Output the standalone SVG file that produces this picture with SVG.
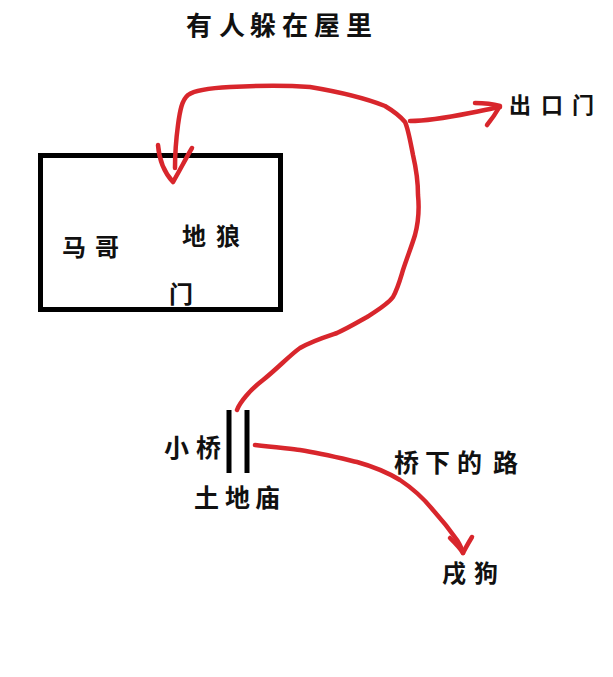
<svg xmlns="http://www.w3.org/2000/svg" width="613" height="677" viewBox="0 0 613 677">
<style>
.t{font-family:"Noto Sans CJK SC","Noto Sans CJK JP",sans-serif;font-weight:700;fill:#111}
.r{fill:none;stroke:#d8262c;stroke-width:4.5;stroke-linecap:round;stroke-linejoin:round}
.k{fill:none;stroke:#000}
</style>
<rect width="613" height="677" fill="#fff"/>
<g id="title"><text class="t" font-size="26" x="186 219 250 282 314 346" y="35">有人躲在屋里</text></g>
<g id="house">
<rect class="k" x="40.5" y="155.5" width="240" height="154" stroke-width="5"/>
<text class="t" font-size="24" x="62 95" y="256">马哥</text>
<text class="t" font-size="24" x="182 216" y="245">地狼</text>
<text class="t" font-size="24" x="169" y="303">门</text>
</g>
<g id="exit"><text class="t" font-size="22" x="509 541 572" y="113">出口门</text></g>
<g id="bridge">
<line class="k" x1="229" y1="410" x2="229" y2="473" stroke-width="5"/>
<line class="k" x1="247" y1="410" x2="247" y2="473" stroke-width="5"/>
<text class="t" font-size="25" x="164 196" y="457">小桥</text>
<text class="t" font-size="25" x="194 225 255" y="507">土地庙</text>
</g>
<g id="road"><text class="t" font-size="25" x="394 425 457 493" y="472">桥下的路</text></g>
<g id="dog"><text class="t" font-size="24" x="442 474" y="582">戌狗</text></g>
<g id="connectors">
<path class="r" d="M237,410 C240,402 250,390 263,380 C278,368 290,355 300,348 C312,341 325,337 337,333 C350,327 358,322 367,317 C378,310 388,304 393,297 C398,288 400,280 403,270 C408,255 412,245 415,235 C419,220 419,205 418,195 C418,180 416,168 413,155 C410,140 408,128 405,122 C400,116 395,112 385,106 C365,98 340,92 310,87 C280,85 250,86 230,87 C210,88 195,90 188,95 C182,100 180,110 178,125 C176,140 175,155 175,168"/>
<path class="r" d="M158,145 C159,158 162,170 173,182 C180,170 186,158 192,148"/>
<path class="r" d="M410,121 C430,121 450,117 470,113 C485,110 494,108 500,107"/>
<path class="r" d="M475,103 C485,103 493,104 500,106 C496,113 492,119 487,125"/>
<path class="r" d="M255,445 C275,447 290,449 300,450 C320,453 340,458 357,462 C375,467 390,474 400,480 C415,490 425,500 433,510 C442,520 450,530 457,540 C460,545 462,549 463,553"/>
<path class="r" d="M450,538 C455,543 460,548 463,553 C466,547 469,542 472,537"/>
</g>
</svg>
